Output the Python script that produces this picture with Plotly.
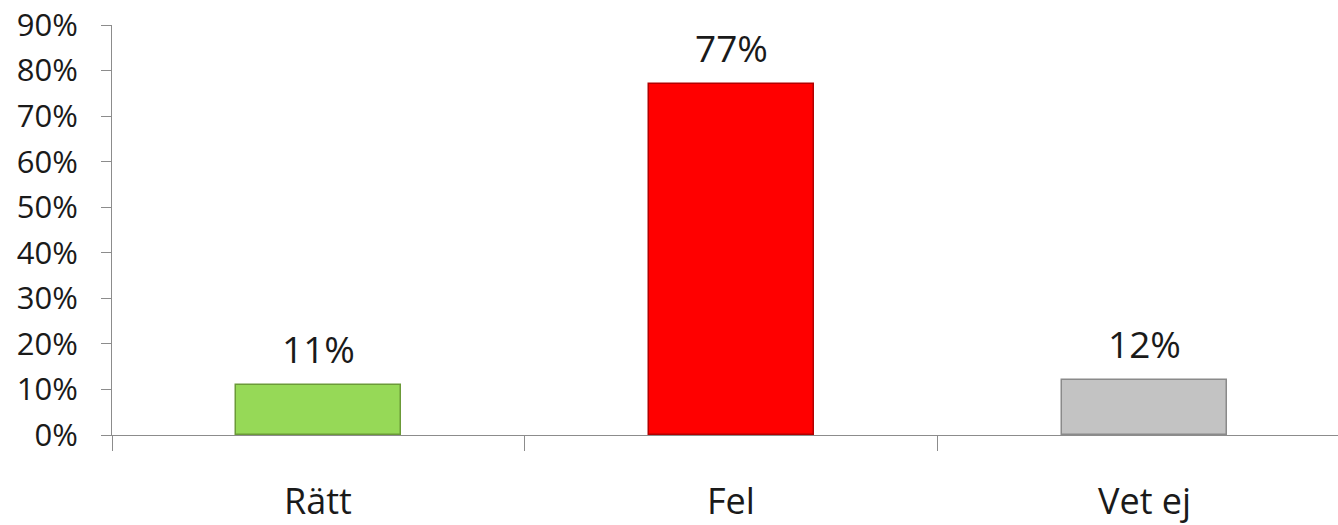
import plotly.graph_objects as go

categories = ["Rätt", "Fel", "Vet ej"]
values = [11, 77, 12]
labels = ["11%", "77%", "12%"]
y_ticks = [0, 10, 20, 30, 40, 50, 60, 70, 80, 90]
y_ticktext = ["0%", "10%", "20%", "30%", "40%", "50%", "60%", "70%", "80%", "90%"]

fill_colors = ["#96d957", "#ff0000", "#c3c3c3"]
line_colors = ["#6b9a38", "#b30000", "#8a8a8a"]

FONT = "Open Sans"
xpos = list(range(len(categories)))

fig = go.Figure()
fig.add_trace(go.Bar(
    x=xpos, y=values, width=0.40,
    marker=dict(color=fill_colors, line=dict(color=line_colors, width=1.5)),
    hoverinfo="skip", showlegend=False,
))

for xi, v, t in zip(xpos, values, labels):
    fig.add_annotation(x=xi, y=v, text=t, showarrow=False, yanchor="bottom",
                       yshift=9, font=dict(family=FONT, size=37, color="#1a1a1a"))
for xi, c in zip(xpos, categories):
    fig.add_annotation(x=xi, y=0, yref="y", text=c, showarrow=False, yanchor="top",
                       yshift=-39, font=dict(family=FONT, size=36, color="#1a1a1a"))

fig.update_layout(
    width=1338, height=525,
    margin=dict(l=112, r=0, t=25, b=90, autoexpand=False),
    paper_bgcolor="white", plot_bgcolor="white",
    bargap=0,
    xaxis=dict(
        range=[-0.5, 2.469], tickmode="array",
        tickvals=[-0.5, 0.5, 1.5], ticktext=["", "", ""],
        ticks="outside", ticklen=15, tickcolor="#8c8c8c", tickwidth=1,
        showline=True, linecolor="#8c8c8c", linewidth=1,
        showgrid=False, zeroline=False, fixedrange=True, automargin=False,
    ),
    yaxis=dict(
        range=[0, 90], tickmode="array", tickvals=y_ticks, ticktext=y_ticktext,
        ticks="outside", ticklen=10, tickcolor="#8c8c8c", tickwidth=1,
        showline=True, linecolor="#8c8c8c", linewidth=1,
        showgrid=False, zeroline=False, automargin=False, fixedrange=True,
        tickfont=dict(family=FONT, size=31, color="#1a1a1a"),
        ticklabelstandoff=17, ticklabeloverflow="allow",
    ),
)

fig.write_html("out.html", config={"displayModeBar": False},
               post_script="document.body.style.margin='0';document.body.style.overflow='hidden';")
